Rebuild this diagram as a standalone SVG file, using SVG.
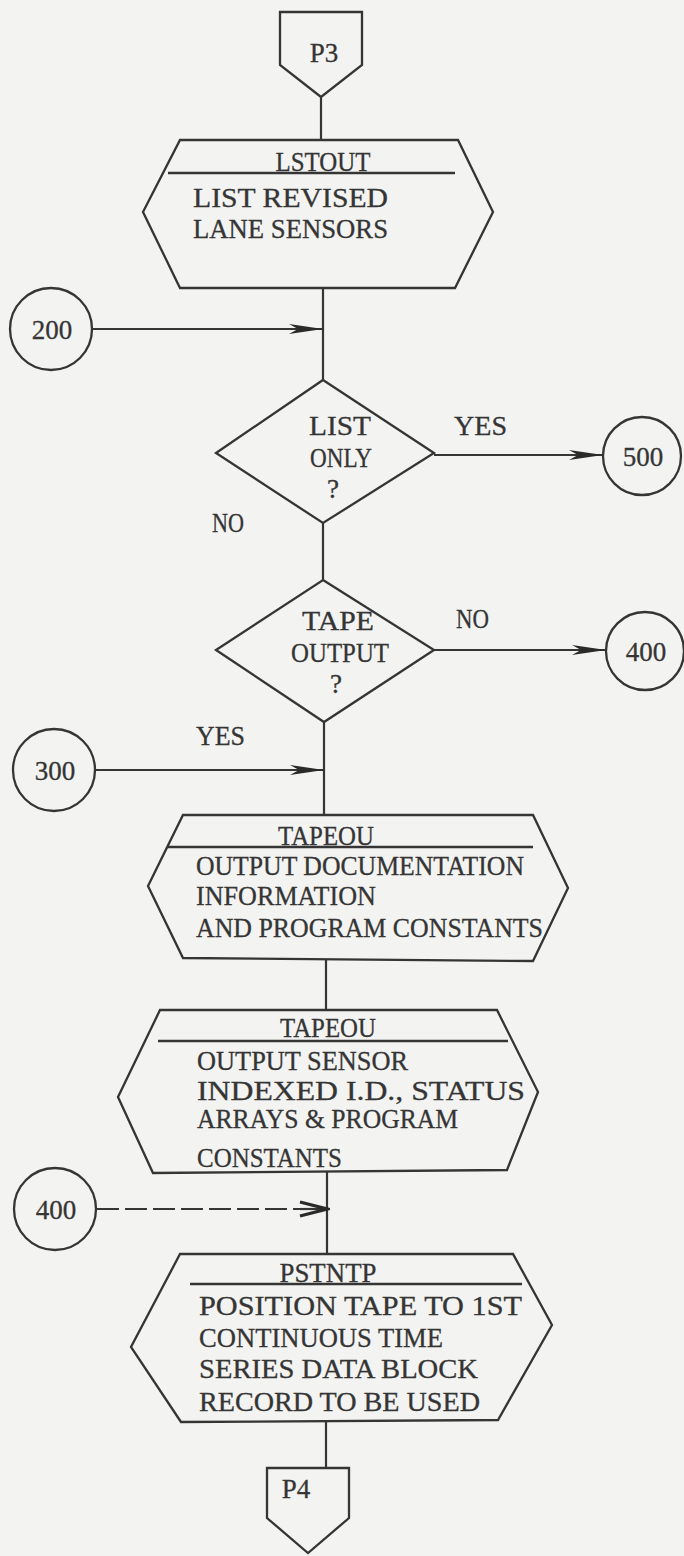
<svg xmlns="http://www.w3.org/2000/svg" width="684" height="1556" viewBox="0 0 684 1556">
<style>
.shape{fill:none;stroke:#353535;stroke-width:2.3;stroke-linejoin:miter}
.line{fill:none;stroke:#353535;stroke-width:2.2}
.t{font-family:"Liberation Serif","Times New Roman",serif;font-size:27px;fill:#353535;stroke:#353535;stroke-width:0.3}
.c{text-anchor:middle}
</style>
<defs>
<marker id="arr" markerUnits="userSpaceOnUse" markerWidth="36" markerHeight="12" refX="34" refY="6" orient="auto">
<path d="M0,1 L34,6 L0,11 L9,6 z" fill="#2a2a2a"/>
</marker>
<marker id="chev" markerUnits="userSpaceOnUse" markerWidth="32" markerHeight="18" refX="29" refY="9" orient="auto">
<path d="M2,2 L29,9 L2,16" fill="none" stroke="#2a2a2a" stroke-width="3.2"/>
</marker>
</defs>
<rect width="684" height="1556" fill="#f3f3f1"/>
<g id="connectors">
<line class="line" x1="321" y1="97" x2="321" y2="140"/>
<line class="line" x1="323" y1="288" x2="323" y2="380"/>
<line class="line" x1="92" y1="329" x2="323" y2="329" marker-end="url(#arr)"/>
<line class="line" x1="323" y1="523" x2="323" y2="580"/>
<line class="line" x1="434" y1="455" x2="603" y2="455" marker-end="url(#arr)"/>
<line class="line" x1="434" y1="650" x2="606" y2="650" marker-end="url(#arr)"/>
<line class="line" x1="324" y1="722" x2="324" y2="815"/>
<line class="line" x1="95" y1="770" x2="324" y2="770" marker-end="url(#arr)"/>
<line class="line" x1="326" y1="960" x2="326" y2="1010"/>
<line class="line" x1="327" y1="1172" x2="327" y2="1254"/>
<line class="line" x1="97" y1="1209" x2="325" y2="1209" stroke-dasharray="22 6"/>
<line class="line" x1="300" y1="1209" x2="327" y2="1209" marker-end="url(#chev)" stroke="none"/>
<line class="line" x1="326" y1="1422" x2="326" y2="1468"/>
<text class="t" x="454" y="435" textLength="53" lengthAdjust="spacingAndGlyphs">YES</text>
<text class="t" x="212" y="532" textLength="32" lengthAdjust="spacingAndGlyphs">NO</text>
<text class="t" x="456" y="628" textLength="33" lengthAdjust="spacingAndGlyphs">NO</text>
<text class="t" x="196" y="745" textLength="49" lengthAdjust="spacingAndGlyphs">YES</text>
</g>
<g id="p3">
<path class="shape" d="M280,12 L362,12 L362,65 L321,97 L280,65 Z"/>
<text class="t c" x="324" y="62" font-size="28">P3</text>
</g>
<g id="lstout">
<path class="shape" d="M180,140 L458,140 L493,212 L455,288 L180,288 L143,212 Z"/>
<line class="shape" x1="168" y1="173" x2="455" y2="173"/>
<text class="t c" x="323" y="171" textLength="95" lengthAdjust="spacingAndGlyphs">LSTOUT</text>
<text class="t" x="193" y="207" textLength="195" lengthAdjust="spacingAndGlyphs">LIST REVISED</text>
<text class="t" x="193" y="238" textLength="195" lengthAdjust="spacingAndGlyphs">LANE SENSORS</text>
</g>
<g id="c200">
<circle class="shape" cx="51" cy="329" r="41"/>
<text class="t c" x="52" y="339" font-size="28">200</text>
</g>
<g id="d-listonly">
<path class="shape" d="M323,380 L434,453 L323,523 L216,453 Z"/>
<text class="t c" x="340" y="435" textLength="62" lengthAdjust="spacingAndGlyphs">LIST</text>
<text class="t c" x="341" y="467" textLength="62" lengthAdjust="spacingAndGlyphs">ONLY</text>
<text class="t c" x="333" y="498">?</text>
</g>
<g id="c500">
<circle class="shape" cx="642" cy="456" r="39"/>
<text class="t c" x="643" y="466" font-size="28">500</text>
</g>
<g id="d-tapeoutput">
<path class="shape" d="M323,580 L434,650 L324,722 L216,650 Z"/>
<text class="t c" x="338" y="630" textLength="72" lengthAdjust="spacingAndGlyphs">TAPE</text>
<text class="t c" x="340" y="662" textLength="98" lengthAdjust="spacingAndGlyphs">OUTPUT</text>
<text class="t c" x="336" y="693">?</text>
</g>
<g id="c400r">
<circle class="shape" cx="645" cy="651" r="39"/>
<text class="t c" x="646" y="661" font-size="28">400</text>
</g>
<g id="c300">
<circle class="shape" cx="54" cy="770" r="41"/>
<text class="t c" x="55" y="780" font-size="28">300</text>
</g>
<g id="tapeou1">
<path class="shape" d="M183,815 L533,815 L568,888 L533,961 L183,958 L148,886 Z"/>
<line class="shape" x1="167" y1="847" x2="533" y2="847"/>
<text class="t c" x="326" y="845" textLength="96" lengthAdjust="spacingAndGlyphs">TAPEOU</text>
<text class="t" x="196" y="875" textLength="328" lengthAdjust="spacingAndGlyphs">OUTPUT DOCUMENTATION</text>
<text class="t" x="196" y="905" textLength="180" lengthAdjust="spacingAndGlyphs">INFORMATION</text>
<text class="t" x="196" y="937" textLength="347" lengthAdjust="spacingAndGlyphs">AND PROGRAM CONSTANTS</text>
</g>
<g id="tapeou2">
<path class="shape" d="M160,1010 L497,1010 L538,1092 L507,1170 L153,1173 L118,1097 Z"/>
<line class="shape" x1="158" y1="1041" x2="508" y2="1041"/>
<text class="t c" x="328" y="1037" textLength="96" lengthAdjust="spacingAndGlyphs">TAPEOU</text>
<text class="t" x="197" y="1070" textLength="211" lengthAdjust="spacingAndGlyphs">OUTPUT SENSOR</text>
<text class="t" x="197" y="1100" textLength="328" lengthAdjust="spacingAndGlyphs">INDEXED I.D., STATUS</text>
<text class="t" x="197" y="1128" textLength="261" lengthAdjust="spacingAndGlyphs">ARRAYS &amp; PROGRAM</text>
<text class="t" x="197" y="1167" textLength="145" lengthAdjust="spacingAndGlyphs">CONSTANTS</text>
</g>
<g id="c400l">
<circle class="shape" cx="55" cy="1209" r="41"/>
<text class="t c" x="56" y="1219" font-size="28">400</text>
</g>
<g id="pstntp">
<path class="shape" d="M180,1254 L513,1254 L552,1325 L498,1420 L181,1422 L131,1347 Z"/>
<line class="shape" x1="190" y1="1284" x2="522" y2="1284"/>
<text class="t c" x="328" y="1282" textLength="97" lengthAdjust="spacingAndGlyphs">PSTNTP</text>
<text class="t" x="199" y="1315" textLength="323" lengthAdjust="spacingAndGlyphs">POSITION TAPE TO 1ST</text>
<text class="t" x="199" y="1347" textLength="244" lengthAdjust="spacingAndGlyphs">CONTINUOUS TIME</text>
<text class="t" x="199" y="1378" textLength="279" lengthAdjust="spacingAndGlyphs">SERIES DATA BLOCK</text>
<text class="t" x="199" y="1411" textLength="281" lengthAdjust="spacingAndGlyphs">RECORD TO BE USED</text>
</g>
<g id="p4">
<path class="shape" d="M267,1468 L349,1468 L349,1518 L308,1553 L267,1518 Z"/>
<text class="t c" x="296" y="1498" font-size="24">P4</text>
</g>
</svg>
